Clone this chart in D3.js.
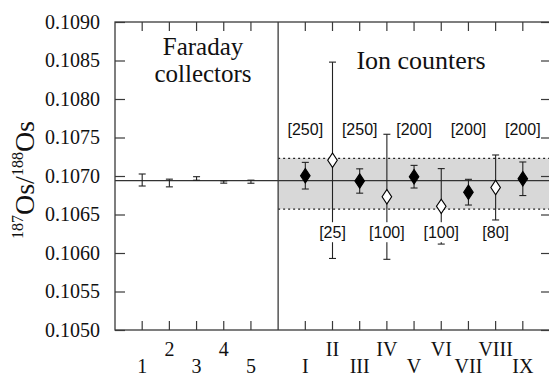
<!DOCTYPE html>
<html>
<head>
<meta charset="utf-8">
<script src="https://cdn.jsdelivr.net/npm/d3@7"></script>
<style>
  body { margin: 0; background: #fff; }
  svg { display: block; font-family: "Liberation Serif", "DejaVu Serif", serif; }
</style>
</head>
<body>
<svg id="chart" width="549" height="377"></svg>
<script>
// Faraday collector runs 1-5
var faradayLabels = ["1", "2", "3", "4", "5"];
var faradayVals = [0.106948, 0.106909, 0.106968, 0.106922, 0.106926];
var faradayErr = [0.000078, 0.000050, 0.000023, 0.000015, 0.000020];

// ion counter runs I-IX
var ionLabels = ["I", "II", "III", "IV", "V", "VI", "VII", "VIII", "IX"];
var ionVals = [0.107004, 0.107204, 0.106935, 0.106730, 0.106991, 0.106606, 0.106790, 0.106851, 0.106964];
var ionErr = [0.000173, 0.001275, 0.000158, 0.000812, 0.000147, 0.000490, 0.000167, 0.000422, 0.000218];
var ionCounts = [250, 25, 250, 100, 200, 100, 200, 80, 200];
var ionFilled = [true, false, true, false, true, false, true, false, true];

var meanRatio = 0.10694;
var bandRange = [0.10657, 0.10723];
var yTicks = [0.1050, 0.1055, 0.1060, 0.1065, 0.1070, 0.1075, 0.1080, 0.1085, 0.1090];

// (window.top is read-only, so plot edges get their own names)
var plotL = 115, plotR = 550, plotT = 22, plotB = 330;
var axisColor = "#3a3a3a";

var x = d3.scaleLinear().domain([0, 16]).range([plotL, plotR]);
var y = d3.scaleLinear().domain([0.1050, 0.1090]).range([plotB, plotT]);

var svg = d3.select("#chart");

// build point tables
var faraday = faradayVals.map(function(v, i) {
  return { pos: i + 1, label: faradayLabels[i], value: v, err: faradayErr[i] };
});
var ion = ionVals.map(function(v, i) {
  return { pos: i + 7, label: ionLabels[i], value: v, err: ionErr[i],
           count: ionCounts[i], filled: ionFilled[i] };
});
var all = faraday.concat(ion);

// shaded band over the ion counter half
svg.append("rect")
  .attr("x", x(6)).attr("y", y(bandRange[1]))
  .attr("width", x(16) - x(6))
  .attr("height", y(bandRange[0]) - y(bandRange[1]))
  .attr("fill", "#d8d8d8");

bandRange.forEach(function(b) {
  svg.append("line")
    .attr("x1", x(6)).attr("x2", x(16))
    .attr("y1", y(b)).attr("y2", y(b))
    .attr("stroke", "#222").attr("stroke-width", 1.2)
    .attr("stroke-dasharray", "2,3");
});

// mean line
svg.append("line")
  .attr("x1", plotL).attr("x2", plotR)
  .attr("y1", y(meanRatio)).attr("y2", y(meanRatio))
  .attr("stroke", "#333").attr("stroke-width", 1.1);

// frame
svg.append("rect")
  .attr("x", plotL).attr("y", plotT)
  .attr("width", plotR - plotL).attr("height", plotB - plotT)
  .attr("fill", "none").attr("stroke", axisColor).attr("stroke-width", 1.3);

// divider between collectors
svg.append("line")
  .attr("x1", x(6)).attr("x2", x(6))
  .attr("y1", plotT).attr("y2", plotB)
  .attr("stroke", axisColor).attr("stroke-width", 1.3);

// left axis
var yAxis = svg.append("g")
  .attr("transform", "translate(" + plotL + ",0)")
  .call(d3.axisLeft(y).tickValues(yTicks).tickFormat(d3.format(".4f"))
          .tickSizeInner(-10).tickSizeOuter(0).tickPadding(15));
yAxis.select(".domain").remove();
yAxis.selectAll("line").attr("stroke", axisColor).attr("stroke-width", 1.2);
yAxis.selectAll("text").attr("font-size", 20).attr("fill", "#111")
  .attr("font-family", "Liberation Serif");

// right axis ticks
var yAxisR = svg.append("g")
  .attr("transform", "translate(" + plotR + ",0)")
  .call(d3.axisRight(y).tickValues(yTicks).tickFormat("")
          .tickSizeInner(-9).tickSizeOuter(0));
yAxisR.select(".domain").remove();
yAxisR.selectAll("line").attr("stroke", axisColor).attr("stroke-width", 1.2);

// bottom and top ticks
var tickPos = all.map(function(d) { return d.pos; });
[[plotB, -9], [plotT, 9]].forEach(function(t) {
  svg.append("g").selectAll("line")
    .data(tickPos).enter().append("line")
    .attr("x1", function(d) { return x(d); }).attr("x2", function(d) { return x(d); })
    .attr("y1", t[0]).attr("y2", t[0] + t[1])
    .attr("stroke", axisColor).attr("stroke-width", 1.2);
});

// staggered category labels
svg.append("g").selectAll("text")
  .data(all).enter().append("text")
  .attr("x", function(d) { return x(d.pos); })
  .attr("y", function(d) {
    var idx = d.pos < 6 ? d.pos - 1 : d.pos - 7;
    return idx % 2 === 0 ? 373 : 356;
  })
  .attr("text-anchor", "middle")
  .attr("font-size", 20)
  .attr("fill", "#111")
  .text(function(d) { return d.label; });

// error bars
var cap = 3.5;
var bars = svg.append("g").selectAll("g")
  .data(all).enter().append("g")
  .attr("stroke", "#222").attr("stroke-width", 1.1);
bars.append("line")
  .attr("x1", function(d) { return x(d.pos); }).attr("x2", function(d) { return x(d.pos); })
  .attr("y1", function(d) { return y(d.value + d.err); })
  .attr("y2", function(d) { return y(d.value - d.err); });
bars.append("line")
  .attr("x1", function(d) { return x(d.pos) - cap; }).attr("x2", function(d) { return x(d.pos) + cap; })
  .attr("y1", function(d) { return y(d.value + d.err); })
  .attr("y2", function(d) { return y(d.value + d.err); });
bars.append("line")
  .attr("x1", function(d) { return x(d.pos) - cap; }).attr("x2", function(d) { return x(d.pos) + cap; })
  .attr("y1", function(d) { return y(d.value - d.err); })
  .attr("y2", function(d) { return y(d.value - d.err); });

// count labels: filled points above, open points below
var labelTop = y(0.1076), labelLowMax = y(0.10627);
ion.forEach(function(d) {
  var cx = x(d.pos), cy;
  if (d.filled) {
    cy = labelTop;
  } else {
    cy = Math.min(y(d.value - d.err) + 21, labelLowMax);
    svg.append("rect")
      .attr("x", cx - 4).attr("y", cy - 10)
      .attr("width", 8).attr("height", 20)
      .attr("fill", "#fff");
  }
  svg.append("text")
    .attr("x", cx).attr("y", cy).attr("dy", "0.35em")
    .attr("text-anchor", "middle")
    .attr("font-family", "Liberation Sans, Arial, sans-serif")
    .attr("font-size", 16)
    .attr("fill", "#111")
    .text("[" + d.count + "]");
});

// diamonds
var diamond = d3.symbol().type(d3.symbolDiamond).size(60);
svg.append("g").selectAll("path")
  .data(ion).enter().append("path")
  .attr("transform", function(d) { return "translate(" + x(d.pos) + "," + y(d.value) + ") scale(1.15,1)"; })
  .attr("d", diamond)
  .attr("fill", function(d) { return d.filled ? "#000" : "#fff"; })
  .attr("stroke", "#000").attr("stroke-width", 1);

// section titles
svg.append("text").attr("x", 203).attr("y", 55)
  .attr("text-anchor", "middle").attr("font-size", 25).attr("fill", "#111")
  .text("Faraday");
svg.append("text").attr("x", 203).attr("y", 82)
  .attr("text-anchor", "middle").attr("font-size", 25).attr("fill", "#111")
  .text("collectors");
svg.append("text").attr("x", 421).attr("y", 69)
  .attr("text-anchor", "middle").attr("font-size", 26).attr("fill", "#111")
  .text("Ion counters");

// y axis title
var title = svg.append("text")
  .attr("transform", "translate(34,180) rotate(-90)")
  .attr("text-anchor", "middle")
  .attr("font-size", 28)
  .attr("fill", "#111");
title.append("tspan").attr("font-size", 16).attr("dy", -11).text("187");
title.append("tspan").attr("dy", 11).text("Os/");
title.append("tspan").attr("font-size", 16).attr("dy", -11).text("188");
title.append("tspan").attr("dy", 11).text("Os");
</script>
</body>
</html>
